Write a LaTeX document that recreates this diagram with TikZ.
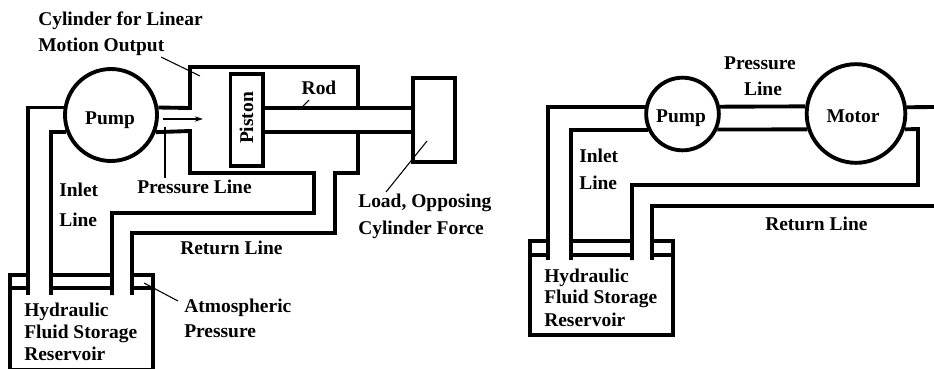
\documentclass[tikz,border=0pt]{standalone}
\usepackage{fontspec}
\setmainfont{Liberation Serif}
\usetikzlibrary{
    positioning,
    arrows.meta
}
\tikzset{
    > = {Stealth[length=2.2mm, width=1.4mm]},
    pipe/.style = {line width=2.9pt, miter limit=10},
    leader/.style = {line width=0.8pt},
    txt/.style = {font=\bfseries\fontsize{14.6}{15}\selectfont, inner sep=0pt, anchor=base},
    lefttxt/.style = {txt, anchor=base west},
    machine/.style = {circle, draw, line width=2.9pt, fill=white, inner sep=0pt},
}

\begin{document}
\begin{tikzpicture}[x=0.75pt, y=-0.75pt]
\useasboundingbox (0,0) rectangle (934,368);

% left circuit
\node[machine, minimum size=69pt] (pumpa) at (111,115) {};
\node[txt] (pumpatxt) at (110,124) {Pump};

\draw[pipe] (pumpa.171) -| (28,295);
\draw[pipe] (pumpa.201) -| (51,295);
\draw[pipe] (pumpa.9) -- (190,108) -- (190,67) -- (358,67) -- (358,108);
\draw[pipe] (pumpa.339) -- (190,131) -- (190,173) -- (314,173) -- (314,213) -- (112,213) -- (112,295);
\draw[pipe] (358,132) -- (358,173) -- (335,173) -- (335,233) -- (132,233) -- (132,295);

\draw[pipe] (230.5,74) rectangle (263,166);
\node[txt, rotate=90] (pistontxt) at (253,118) {Piston};
\draw[pipe] (263,108) -- (413,108);
\draw[pipe] (263,132) -- (413,132);
\draw[pipe] (413,78) rectangle (455,162);

% left reservoir
\draw[pipe] (28,275) -- (10,275) -- (10,370) -- (153,370) -- (153,275) -- (132,275);
\draw[pipe] (51,275) -- (112,275);
\draw[pipe] (10,288) -- (28,288);
\draw[pipe] (51,288) -- (112,288);
\draw[pipe] (132,288) -- (153,288);

% leaders
\draw[leader] (161,57) -- (200,76);
\draw[leader, ->] (163,119) -- (203,119);
\draw[leader] (165,127) -- (165,178);
\draw[leader] (303,106) -- (309,100);
\draw[leader] (386,192) -- (427,141);
\draw[leader] (144,283) -- (178,301);

\node[lefttxt] (cyla) at (38,25) {Cylinder for Linear};
\node[lefttxt] (cylb) at (38,51) {Motion Output};
\node[txt] (rodtxt) at (319,94) {Rod};
\node[lefttxt] (prestxt) at (137,193) {Pressure Line};
\node[lefttxt] (inleta) at (59,196) {Inlet};
\node[lefttxt] (linea) at (59,226) {Line};
\node[lefttxt] (returna) at (180,254) {Return Line};
\node[lefttxt] (loada) at (358,207) {Load, Opposing};
\node[lefttxt] (loadb) at (358,234) {Cylinder Force};
\node[lefttxt] (atma) at (184,312) {Atmospheric};
\node[lefttxt] (atmb) at (184,337) {Pressure};
\node[lefttxt] (hyda) at (24,316) {Hydraulic};
\node[lefttxt] (hydb) at (24,338) {Fluid Storage};
\node[lefttxt] (hydc) at (24,360) {Reservoir};

% right circuit
\node[machine, minimum size=54.5pt] (pumpb) at (682.5,114) {};
\node[machine, minimum size=74pt] (motor) at (856,113.5) {};
\node[txt] (pumpbtxt) at (681,122) {Pump};
\node[txt] (motortxt) at (853,122) {Motor};

\draw[pipe] (pumpb.169) -| (548,260);
\draw[pipe] (pumpb.204) -| (571,260);
\draw[pipe] (pumpb.11) -- (motor.172.5);
\draw[pipe] (pumpb.336) -- (motor.198);
\draw[pipe] (motor.7.5) -- (934,107);
\draw[pipe] (motor.342) -- (918,129) -- (918,185) -- (632,185) -- (632,260);
\draw[pipe] (934,206) -- (652,206) -- (652,260);

% right reservoir
\draw[pipe] (548,241) -- (530,241) -- (530,335) -- (673,335) -- (673,241) -- (652,241);
\draw[pipe] (571,241) -- (632,241);
\draw[pipe] (530,255) -- (548,255);
\draw[pipe] (571,255) -- (632,255);
\draw[pipe] (652,255) -- (673,255);

\node[txt] (presb) at (760,69) {Pressure};
\node[txt] (lineb) at (763,95) {Line};
\node[lefttxt] (inletb) at (579,162) {Inlet};
\node[lefttxt] (linec) at (579,189) {Line};
\node[lefttxt] (returnb) at (765,230) {Return Line};
\node[lefttxt] (hydd) at (544,282) {Hydraulic};
\node[lefttxt] (hyde) at (544,303) {Fluid Storage};
\node[lefttxt] (hydf) at (544,326) {Reservoir};
\end{tikzpicture}
\end{document}
